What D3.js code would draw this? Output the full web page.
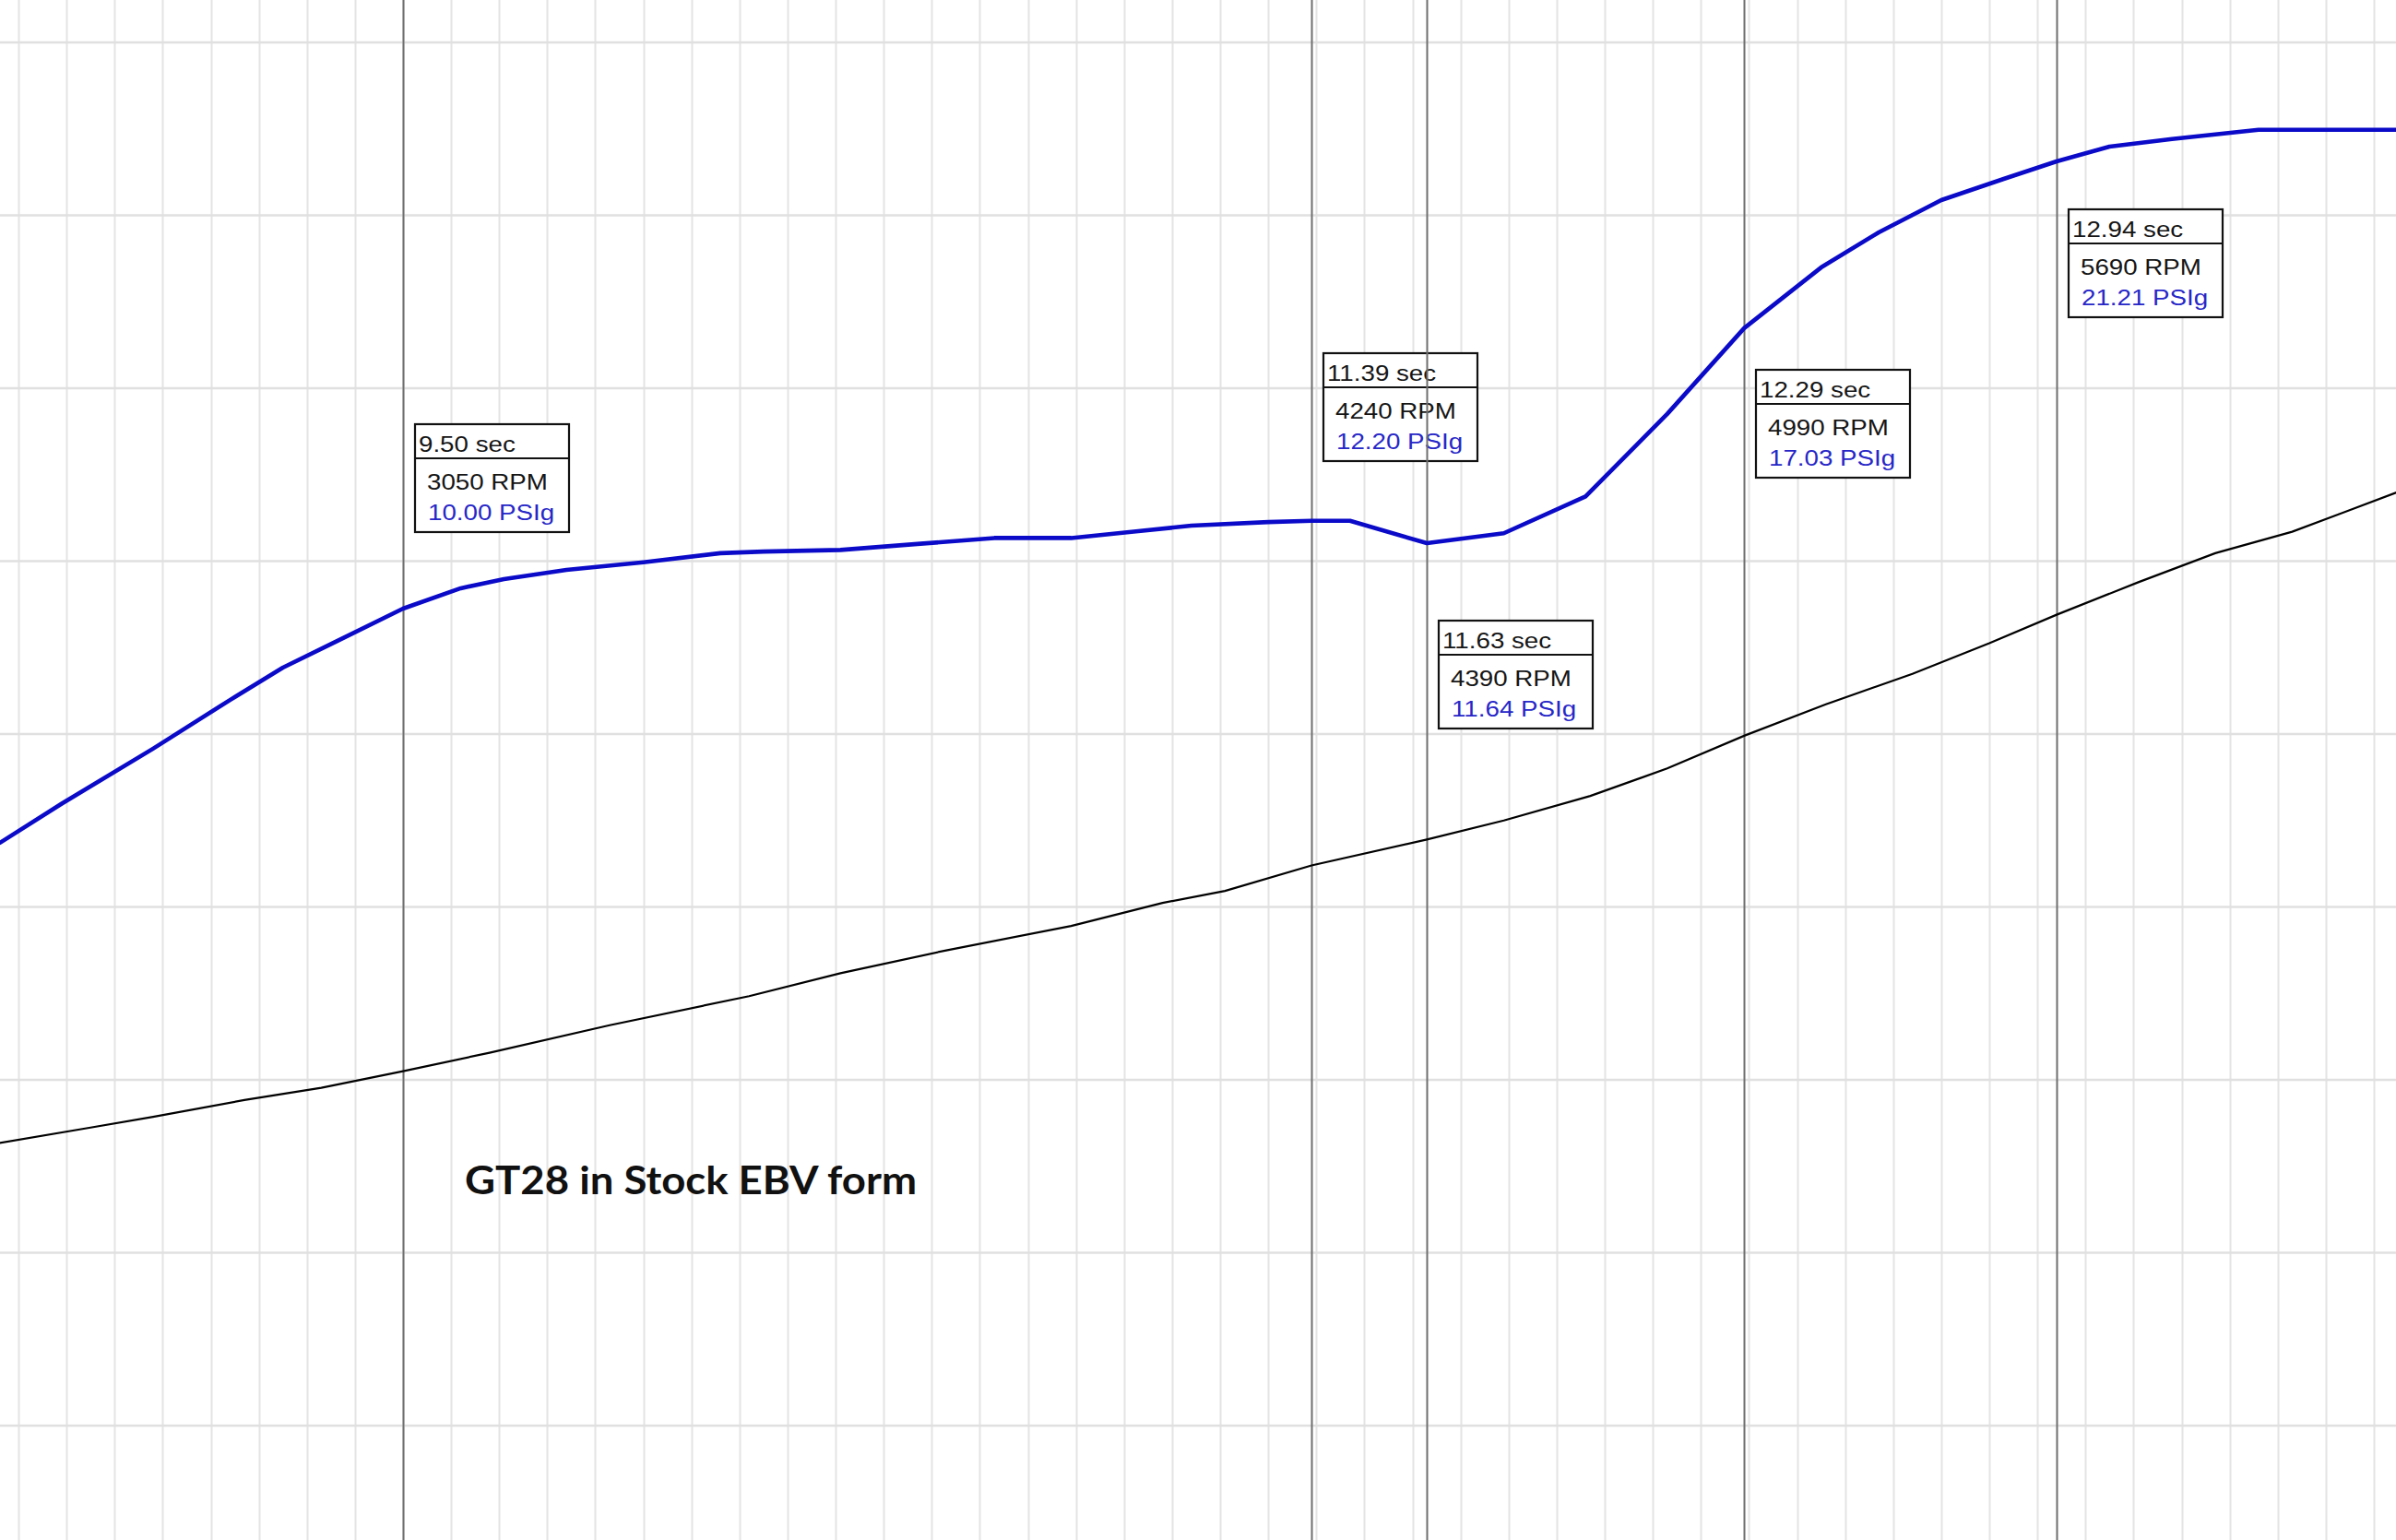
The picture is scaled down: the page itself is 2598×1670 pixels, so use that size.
<!DOCTYPE html>
<html>
<head>
<meta charset="utf-8">
<script src="https://cdn.jsdelivr.net/npm/d3@7"></script>
<style>
  html, body { margin: 0; padding: 0; background: #ffffff; overflow: hidden; }
  svg { display: block; }
</style>
</head>
<body>
<svg id="chart" width="2598" height="1670"></svg>
<script>
// Boost pressure trace (PSIg) against log time (sec)
const boostTime = [8.66, 8.79, 8.98, 9.14, 9.25, 9.36, 9.50, 9.62, 9.71, 9.84, 10.00, 10.16, 10.25, 10.41,
                   10.57, 10.73, 10.89, 11.02, 11.14, 11.30, 11.39, 11.47, 11.63, 11.79, 11.96, 12.13,
                   12.29, 12.45, 12.57, 12.70, 12.83, 12.94, 13.05, 13.18, 13.36, 13.56, 13.65];
const boostPsi  = [4.12, 5.11, 6.49, 7.71, 8.52, 9.17, 10.00, 10.51, 10.74, 10.97, 11.16, 11.39, 11.43, 11.47,
                   11.62, 11.77, 11.77, 11.93, 12.08, 12.17, 12.20, 12.20, 11.64, 11.89, 12.81, 14.88,
                   17.03, 18.55, 19.43, 20.24, 20.77, 21.21, 21.58, 21.77, 22.00, 22.00, 22.00];

// Engine speed trace (RPM) against log time (sec)
const rpmTime   = [8.66, 8.85, 8.98, 9.17, 9.33, 9.50, 9.68, 9.93, 10.22, 10.41, 10.63, 10.89, 11.08, 11.21,
                   11.39, 11.63, 11.79, 11.97, 12.13, 12.29, 12.46, 12.64, 12.80, 12.94, 13.11, 13.27,
                   13.43, 13.65];
const rpmValues = [2635, 2724, 2786, 2883, 2954, 3050, 3157, 3316, 3484, 3617, 3749, 3890, 4023, 4093,
                   4240, 4390, 4500, 4642, 4801, 4990, 5172, 5348, 5525, 5690, 5878, 6046,
                   6170, 6400];

// Cursor readouts
const cursorTimes = [9.50, 11.39, 11.63, 12.29, 12.94];
const cursorRpm   = [3050, 4240, 4390, 4990, 5690];
const cursorPsi   = [10.00, 12.20, 11.64, 17.03, 21.21];

// Grid: RPM rows and 0.1 sec columns
const rpmGridTicks = [1000, 2000, 3000, 4000, 5000, 6000, 7000, 8000, 9000];
const timeGridTicks = d3.range(86, 137).map(k => k / 10);

const chartTitle = "GT28 in Stock EBV form";

// ---- layout ----
const W = 2598, H = 1670;
const calloutTop = [460, 383, 673, 401, 227];   // readout box top edges (px)
const boxW = 167, boxH = 117, headH = 37;

const x = d3.scaleLinear().domain([9.5, 12.94]).range([437, 2230]);
const yRpm = d3.scaleLinear().domain([0, 9000]).range([1733.5, 46]);
const yPsi = d3.scaleLinear().domain([10, 21.21]).range([660, 175]);

const svg = d3.select("#chart");
svg.append("rect").attr("width", W).attr("height", H).attr("fill", "#ffffff");

// Grid columns
svg.append("g")
  .selectAll("line").data(timeGridTicks).join("line")
  .attr("x1", d => Math.round(x(d)) + 0.5).attr("x2", d => Math.round(x(d)) + 0.5)
  .attr("y1", 0).attr("y2", H)
  .attr("stroke", "#e4e4e4").attr("stroke-width", 2);

// Grid rows
svg.append("g")
  .selectAll("line").data(rpmGridTicks).join("line")
  .attr("x1", 0).attr("x2", W)
  .attr("y1", d => yRpm(d)).attr("y2", d => yRpm(d))
  .attr("stroke", "#e0e0e0").attr("stroke-width", 2.5);

// Readout boxes
const cursors = cursorTimes.map((t, i) => ({ t, rpm: cursorRpm[i], psi: cursorPsi[i], top: calloutTop[i] }));
const boxes = svg.append("g").selectAll("g").data(cursors).join("g")
  .attr("transform", d => `translate(${Math.round(x(d.t)) + 13},${d.top})`);

boxes.append("rect")
  .attr("width", boxW).attr("height", boxH)
  .attr("fill", "#ffffff").attr("stroke", "#111111").attr("stroke-width", 2.2);
boxes.append("line")
  .attr("x1", 0).attr("x2", boxW).attr("y1", headH).attr("y2", headH)
  .attr("stroke", "#111111").attr("stroke-width", 2.2);

const fmt2 = d3.format(".2f");
function readout(sel, dx, dy, txt, color) {
  sel.append("text")
    .attr("transform", `translate(${dx},${dy}) scale(1.18,1)`)
    .attr("font-family", "'Liberation Sans', Arial, sans-serif")
    .attr("font-size", 23.5)
    .attr("fill", color)
    .text(txt);
}
boxes.each(function (d) {
  const g = d3.select(this);
  readout(g, 4, 30, fmt2(d.t) + " sec", "#161616");
  readout(g, 13, 71, d.rpm + " RPM", "#161616");
  readout(g, 14, 104, fmt2(d.psi) + " PSIg", "#2727c8");
});

// Cursor lines
svg.append("g")
  .selectAll("line").data(cursorTimes).join("line")
  .attr("x1", d => Math.round(x(d)) + 0.5).attr("x2", d => Math.round(x(d)) + 0.5)
  .attr("y1", 0).attr("y2", H)
  .attr("stroke", "#6f6f6f").attr("stroke-width", 2);

// RPM trace
const rpmLine = d3.line().x(d => x(d[0])).y(d => yRpm(d[1]));
svg.append("path")
  .datum(rpmTime.map((t, i) => [t, rpmValues[i]]))
  .attr("d", rpmLine)
  .attr("fill", "none").attr("stroke", "#000000").attr("stroke-width", 2.2);

// Boost trace
const psiLine = d3.line().x(d => x(d[0])).y(d => yPsi(d[1]));
svg.append("path")
  .datum(boostTime.map((t, i) => [t, boostPsi[i]]))
  .attr("d", psiLine)
  .attr("fill", "none").attr("stroke", "#0a0ac8").attr("stroke-width", 4.6)
  .attr("stroke-linejoin", "round");

// Title annotation
svg.append("text")
  .attr("x", 504).attr("y", 1295)
  .attr("font-family", "Lato, 'Open Sans', sans-serif")
  .attr("font-weight", 700)
  .attr("font-size", 42)
  .attr("fill", "#111111")
  .attr("textLength", 490).attr("lengthAdjust", "spacingAndGlyphs")
  .text(chartTitle);
</script>
</body>
</html>
